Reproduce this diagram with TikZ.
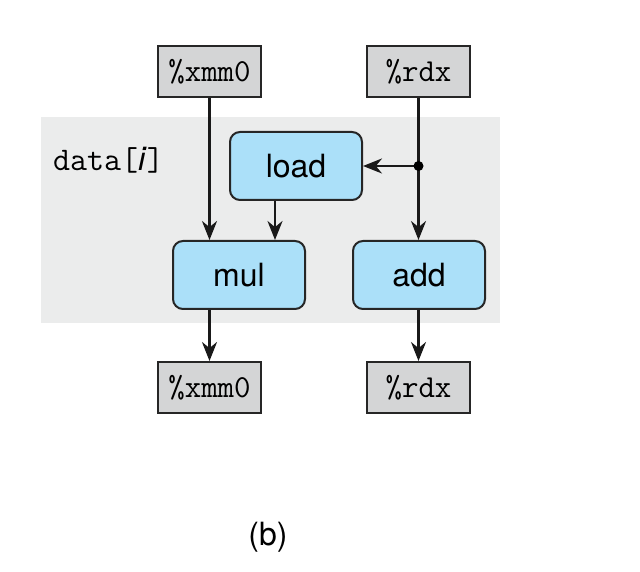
\documentclass[tikz,border=0pt]{standalone}
\usepackage{fontspec}
\setsansfont{TeX Gyre Heros}
\usepackage{tikz}
\usetikzlibrary{arrows.meta,calc}
\usetikzlibrary{positioning}

\definecolor{opblue}{RGB}{171,224,249}
\definecolor{loopgray}{RGB}{235,236,236}
\definecolor{reggray}{RGB}{212,213,214}

\tikzset{
  reg/.style={draw=black!85,line width=1pt,fill=reggray,minimum width=51.5pt,
    minimum height=25.5pt,inner sep=0pt,font=\ttfamily\fontsize{16}{18}\selectfont},
  op/.style={draw=black!85,line width=1pt,fill=opblue,rounded corners=5pt,
    minimum width=66pt,minimum height=34pt,inner sep=0pt,font=\sffamily\fontsize{16}{18}\selectfont},
  flow/.style={->,line width=1.2pt,black!90}
}

\begin{document}
\begin{tikzpicture}[x=0.5pt,y=0.5pt,>={Stealth[length=9.5pt,width=7.5pt]}]
  \useasboundingbox (0,0) rectangle (640,571);
  % loop body
  \fill[loopgray] (41,248) rectangle (500,454);
  \node[font=\ttfamily\fontsize{16.5}{19}\selectfont] (lbl) at (108.5,411)
    {data[\textsf{\itshape i}]};
  % registers in
  \node[reg] (xin) at (209.5,499.5) {\%xmm0};
  \node[reg] (rin) at (418.5,499.5) {\%rdx};
  % operations
  \node[op] (load) at (296,405) {load};
  \node[op] (mul) at (239,296) {mul};
  \node[op] (add) at (419,296) {add};
  % registers out
  \node[reg] (xout) at (209.5,183.5) {\%xmm0};
  \node[reg] (rout) at (418.5,183.5) {\%rdx};
  % edges
  \coordinate (tap) at (rin.south |- load.east);
  \draw[flow] (xin.south) -- (xin.south |- mul.north);
  \draw[flow] ([xshift=-10.5pt]load.south) -- ([xshift=-10.5pt]load.south |- mul.north);
  \draw[flow] (rin.south) -- (rin.south |- add.north);
  \draw[flow] (tap) -- (load.east);
  \fill (tap) circle (2.5pt);
  \draw[flow] (xout.north |- mul.south) -- (xout.north);
  \draw[flow] (rout.north |- add.south) -- (rout.north);
  \node[font=\sffamily\fontsize{16}{18}\selectfont] (cap) at (268,34) {(b)};
\end{tikzpicture}
\end{document}
